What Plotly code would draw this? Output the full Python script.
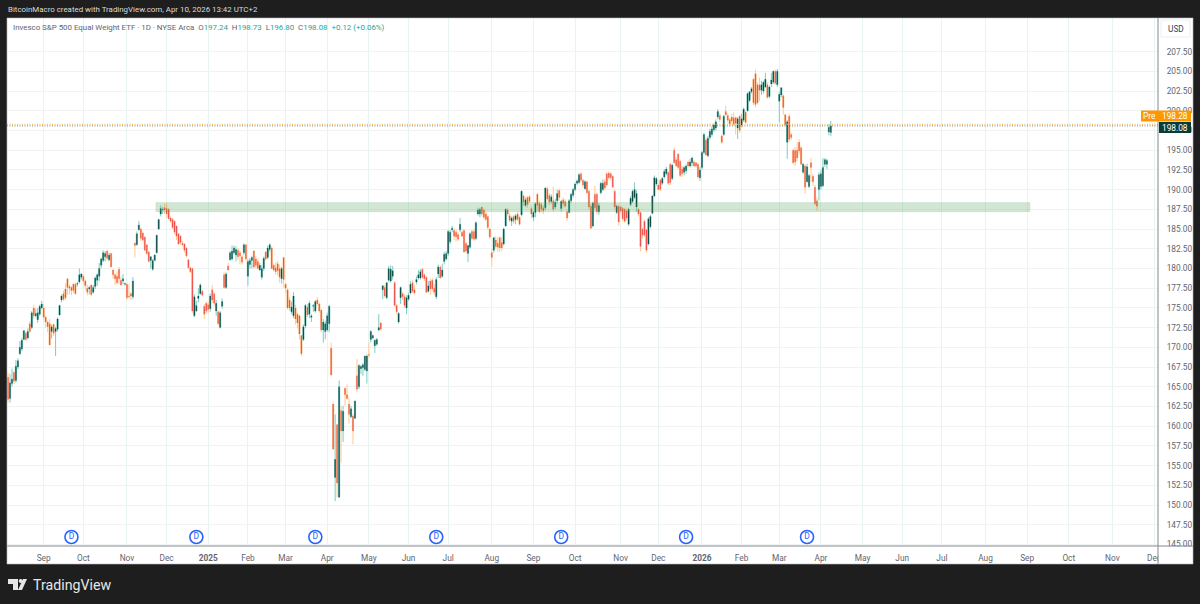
import plotly.graph_objects as go

# daily bars, first bar is roughly late July 2024
open_ = [
    166.2,163.5,165.4,166.8,165.8,167.5,169.2,169.8,171.0,171.8,
    171.2,173.0,172.5,175.0,174.0,173.5,174.2,175.0,175.0,173.8,
    173.2,173.0,172.0,172.9,172.0,172.3,174.1,176.0,176.8,177.4,
    178.7,177.7,177.6,178.0,178.0,178.0,178.3,178.9,179.0,178.4,
    177.5,177.4,177.9,177.0,177.7,178.5,179.0,180.4,181.0,181.5,
    182.2,181.1,181.9,179.8,179.2,179.0,179.9,178.5,178.4,178.0,
    178.0,176.5,176.8,176.4,183.2,183.0,184.9,185.0,184.5,184.0,
    183.0,182.1,181.0,179.9,181.0,182.0,185.0,186.9,187.4,187.7,
    187.6,187.5,186.4,186.2,186.0,185.4,184.4,184.1,183.2,183.1,
    182.6,181.1,180.1,180.0,174.0,174.6,176.2,176.8,177.1,175.2,
    175.6,175.4,174.9,177.3,176.8,174.6,174.5,172.5,175.2,179.2,
    177.6,180.3,181.1,181.2,182.0,181.7,182.3,182.0,181.5,182.0,
    183.0,179.0,180.5,181.0,182.2,181.2,180.9,179.8,178.9,180.0,
    182.1,181.4,182.4,182.6,180.4,180.1,180.6,180.0,178.7,181.4,
    178.0,177.3,176.0,174.5,174.0,175.0,174.2,174.0,171.5,171.0,
    172.7,175.1,174.2,173.8,175.2,174.6,176.0,175.5,174.7,172.2,
    172.0,172.2,173.0,169.9,162.8,153.5,160.2,151.0,162.0,159.4,
    164.8,164.0,162.8,161.2,161.3,161.0,166.4,165.0,167.3,167.4,
    167.2,167.0,169.1,171.0,171.2,170.2,170.4,172.2,173.1,177.3,
    177.6,176.3,178.5,178.4,179.0,178.2,175.3,173.2,176.3,176.8,
    176.4,175.0,176.1,176.9,178.2,177.3,178.3,178.8,178.8,179.9,
    179.2,178.9,177.1,178.4,178.5,177.5,176.4,179.3,180.2,179.0,
    180.9,181.2,181.9,183.4,184.9,184.8,184.6,184.3,184.9,184.6,
    184.8,183.2,181.9,182.7,184.7,184.7,183.8,186.9,186.9,187.8,
    187.4,186.9,186.6,185.0,182.0,182.3,183.6,183.2,183.9,183.3,
    183.1,185.4,187.4,186.7,186.0,186.6,186.2,186.9,186.5,186.8,
    189.2,188.0,189.0,189.1,187.6,186.5,187.1,189.4,188.3,188.1,
    187.7,187.7,190.1,189.3,188.5,188.6,187.8,188.6,189.9,187.6,
    188.7,188.5,187.2,187.1,188.6,189.3,190.0,190.8,190.9,192.0,
    191.2,190.1,191.0,189.8,187.9,185.4,189.4,189.4,187.2,189.6,
    190.0,191.0,192.0,192.1,192.0,191.7,189.8,187.1,187.9,187.8,
    187.6,187.5,187.3,185.6,188.1,188.5,189.0,187.8,187.5,187.1,
    185.0,186.0,184.9,183.1,185.3,187.0,189.2,190.7,190.6,191.2,
    190.8,191.6,192.0,192.2,193.2,191.4,195.0,193.8,194.5,193.6,
    192.6,192.2,192.4,193.5,193.0,193.4,193.5,193.4,193.2,191.5,
    192.8,194.7,196.3,194.3,196.6,197.0,197.6,197.8,199.2,199.4,
    196.8,197.0,199.9,199.4,198.9,199.2,199.1,199.1,197.8,199.3,
    198.2,198.8,199.8,200.0,201.3,202.4,204.0,204.7,203.3,203.3,
    202.6,202.5,203.0,203.3,201.8,203.4,203.6,205.0,203.3,201.2,
    202.0,201.9,199.5,196.0,199.3,197.0,195.0,195.0,195.0,196.0,
    195.3,192.2,193.0,191.0,190.4,193.4,191.7,190.3,188.6,190.0,
    190.4,190.5,193.2,193.2,197.3,197.24,
]
high = [
    166.8,166.6,167.3,167.0,168.4,168.6,170.8,171.2,172.2,172.0,
    172.4,173.3,174.6,175.4,174.9,175.0,175.4,175.9,175.5,174.0,
    173.4,173.6,172.9,173.0,172.6,173.8,175.4,176.7,177.2,178.1,
    178.7,178.0,177.8,178.1,178.2,178.3,180.0,179.4,179.2,178.6,
    177.9,177.8,178.0,177.9,179.0,179.4,180.7,181.4,182.3,182.2,
    182.4,182.0,182.0,179.9,179.4,179.6,180.2,179.0,179.3,178.2,
    178.1,178.0,177.0,178.9,183.3,184.7,186.0,185.2,184.7,184.0,
    183.0,182.2,181.5,181.2,181.8,184.3,186.3,188.0,187.8,188.2,
    188.2,187.7,186.6,186.4,186.1,185.4,184.5,184.2,183.5,183.2,
    182.7,181.2,180.2,180.1,176.7,175.9,177.5,178.1,177.3,175.5,
    175.8,175.8,176.8,177.9,177.0,176.0,174.7,174.6,176.2,179.5,
    179.5,180.7,182.2,182.9,182.9,182.8,182.6,182.3,181.7,183.2,
    183.1,181.2,181.3,181.6,182.3,181.6,181.3,180.7,180.4,181.5,
    182.2,182.9,183.2,182.8,180.6,180.8,181.0,180.5,180.2,181.4,
    178.2,177.5,176.4,175.8,177.0,175.4,174.4,174.1,171.6,172.9,
    175.5,175.5,175.9,174.2,175.5,176.0,176.4,175.7,174.9,173.6,
    173.4,174.4,175.4,170.6,163.0,161.5,160.3,165.8,162.6,162.6,
    164.9,165.3,163.6,162.6,161.5,163.2,168.5,167.9,167.7,168.0,
    168.9,169.1,170.6,172.2,171.6,171.0,171.2,174.2,173.2,177.8,
    177.9,178.3,180.3,180.4,180.3,178.4,175.5,174.5,177.7,177.0,
    176.7,176.6,176.9,178.4,178.5,177.9,179.0,179.8,179.9,180.1,
    179.4,179.0,178.4,178.7,178.8,178.0,178.9,180.5,180.4,180.6,
    182.1,182.2,184.9,184.9,185.4,185.1,184.9,184.6,186.4,184.9,
    185.0,183.4,183.0,184.6,184.9,185.0,186.0,187.7,187.7,187.8,
    187.6,187.2,186.7,185.1,182.5,184.0,184.1,184.0,184.1,184.0,
    185.2,187.6,187.7,187.0,186.6,186.8,186.9,187.2,186.7,189.9,
    189.4,189.0,189.2,189.3,187.9,187.3,188.4,189.6,188.6,188.4,
    188.0,190.3,190.4,189.6,189.4,190.4,188.8,190.0,190.1,188.7,
    189.0,188.8,187.5,188.8,189.6,190.2,190.9,191.3,192.1,192.2,
    191.3,191.2,191.1,190.0,188.2,188.5,190.5,189.6,188.3,191.0,
    191.3,191.4,192.2,192.3,192.2,191.8,190.0,188.1,188.1,188.0,
    187.8,187.7,187.6,187.7,189.2,190.0,190.9,189.9,187.7,187.2,
    185.2,186.2,185.0,186.5,186.8,189.3,191.8,191.6,190.8,191.4,
    191.6,192.6,192.9,192.3,193.4,193.3,195.3,194.1,194.6,193.8,
    193.0,193.0,193.2,193.7,193.9,194.2,193.7,193.5,193.4,192.9,
    194.9,197.2,196.6,196.8,197.7,198.0,198.4,198.9,200.2,199.7,
    197.0,199.5,200.6,199.7,199.0,199.6,199.8,199.3,199.2,199.5,
    199.6,200.4,200.0,202.3,202.5,203.0,204.1,205.2,203.6,204.2,
    203.8,203.8,204.8,203.6,203.2,204.8,205.1,205.2,205.3,202.4,
    203.0,202.1,199.6,198.8,199.6,197.2,195.2,195.4,196.0,196.4,
    195.5,193.4,193.2,193.3,192.0,194.0,192.0,190.6,189.0,192.2,
    192.5,194.0,194.0,193.9,198.3,198.73,
]
low = [
    163.0,163.0,165.0,165.3,165.5,167.2,169.0,169.5,170.9,170.8,
    171.0,171.8,172.3,173.6,173.8,173.1,174.0,174.8,173.5,172.5,
    171.9,170.3,171.1,171.4,168.9,172.0,174.0,175.7,175.9,176.0,
    176.7,176.7,176.6,176.9,176.7,177.7,178.1,178.6,178.0,177.3,
    176.6,176.7,176.5,176.8,177.4,177.8,178.4,180.0,180.8,180.9,
    181.0,180.9,180.2,178.7,177.9,178.0,178.0,177.8,178.0,177.8,
    176.0,176.2,176.0,176.1,181.4,182.9,184.8,183.5,183.4,182.2,
    181.7,180.8,180.0,179.7,181.0,181.9,184.9,186.6,186.9,186.9,
    186.4,186.2,185.8,185.0,184.3,183.6,183.0,183.0,182.8,182.0,
    181.4,179.9,179.4,174.4,173.8,174.5,175.7,176.7,176.5,173.6,
    174.3,174.4,174.5,175.6,175.2,174.0,172.8,172.4,174.9,177.4,
    177.4,179.7,181.0,181.0,181.8,180.9,181.1,180.5,180.5,181.7,
    181.0,177.8,180.0,180.0,180.0,180.1,179.9,179.7,178.6,179.7,
    181.0,181.2,182.1,179.9,179.6,179.2,179.1,178.2,178.1,177.6,
    176.9,174.8,174.6,174.2,173.7,172.9,172.4,171.0,168.9,170.8,
    172.4,173.8,173.7,173.2,174.5,174.4,175.3,174.4,171.9,170.6,
    171.0,172.0,171.9,166.4,157.0,150.5,151.0,150.9,155.4,158.0,
    162.6,163.4,160.3,161.0,157.7,160.9,164.3,164.7,166.6,166.4,
    167.0,165.4,168.7,170.6,171.0,169.3,170.2,172.0,172.1,176.1,
    176.3,176.1,178.3,178.2,178.6,175.2,174.2,173.0,175.5,176.0,
    175.0,174.2,175.9,176.7,176.9,176.7,178.0,178.6,178.6,178.7,
    178.4,176.9,176.9,176.6,177.1,176.6,176.1,178.8,178.7,178.8,
    180.5,181.0,181.6,183.1,184.6,183.6,183.4,183.5,184.6,184.0,
    182.0,182.0,180.8,182.5,183.6,183.5,183.6,186.7,186.5,186.6,
    186.2,186.0,184.9,183.7,180.2,182.0,182.5,182.1,182.1,182.2,
    182.9,185.3,186.6,185.9,185.4,185.7,185.6,186.0,185.4,186.6,
    187.9,187.8,187.7,188.3,186.4,186.0,186.5,187.3,187.0,187.1,
    186.9,187.4,188.6,188.0,188.2,187.2,187.5,188.2,188.6,187.2,
    187.8,187.7,186.0,187.0,188.3,189.0,189.8,190.6,190.7,191.0,
    190.3,190.0,189.4,187.5,185.0,185.2,187.4,186.9,186.8,189.4,
    189.8,189.9,190.4,191.3,191.2,190.2,187.5,186.9,185.4,187.0,
    186.0,185.8,186.1,185.4,187.9,188.3,188.8,187.2,186.6,182.2,
    183.8,184.0,182.0,182.9,185.1,186.9,189.0,190.5,189.9,189.8,
    190.6,191.4,191.8,190.6,190.6,191.2,193.3,192.9,192.6,191.6,
    191.6,191.8,192.0,192.8,192.8,193.0,192.8,192.8,191.4,191.1,
    192.5,194.5,194.3,194.1,196.3,196.7,197.3,197.5,198.9,198.6,
    195.8,196.8,199.3,198.5,198.0,198.4,198.1,197.0,196.4,197.2,
    197.9,198.6,198.4,199.9,201.1,202.2,200.7,200.4,200.8,201.2,
    202.0,202.2,202.9,201.5,201.6,203.0,203.4,203.3,203.0,198.5,
    201.7,199.5,198.0,193.9,196.0,196.3,193.2,193.0,193.6,194.6,
    193.2,192.0,189.5,190.9,190.2,191.0,190.5,188.0,187.3,188.6,
    190.0,190.3,192.9,192.6,196.9,196.80,
]
close = [
    163.4,165.5,166.0,165.7,167.6,168.3,170.0,170.9,172.1,171.0,
    172.0,172.0,174.4,174.0,174.3,174.4,175.2,175.5,173.8,173.2,
    172.6,170.3,172.6,171.8,172.4,173.6,175.3,176.5,176.1,176.3,
    177.6,177.5,177.2,177.2,176.8,178.1,179.2,179.3,178.4,177.8,
    177.0,177.6,176.7,177.6,178.8,179.2,180.0,181.2,182.0,181.9,
    181.3,181.7,180.2,179.2,178.7,178.2,178.7,177.9,178.7,178.1,
    176.3,176.4,176.5,178.4,182.9,184.4,185.5,183.8,183.6,182.3,
    181.9,180.9,181.5,181.0,181.7,184.2,186.2,187.6,187.5,187.4,
    186.9,186.3,186.0,185.2,184.6,184.1,183.1,183.3,183.0,182.3,
    181.6,180.1,179.6,174.6,176.4,175.3,176.5,177.9,176.6,174.2,
    174.6,174.8,176.5,176.0,175.6,175.6,173.0,174.4,175.8,177.6,
    179.3,179.8,182.0,182.2,182.6,182.4,181.5,181.6,180.8,183.0,
    181.2,180.9,181.0,181.4,180.2,180.4,180.0,180.4,180.0,181.3,
    181.2,182.6,183.0,180.0,179.8,179.6,179.7,178.9,180.0,178.6,
    177.5,175.0,175.0,175.1,176.5,173.6,173.1,171.7,169.2,172.6,
    175.3,174.1,175.6,174.0,175.3,175.8,175.5,174.6,172.2,173.2,
    173.0,174.0,175.2,166.5,157.1,155.8,152.8,165.0,159.4,161.9,
    164.0,163.5,161.5,162.2,159.4,163.2,164.7,167.7,167.6,167.8,
    168.9,168.9,169.0,172.0,171.5,170.9,171.0,172.5,172.3,177.8,
    176.5,178.2,180.0,179.9,179.7,175.3,174.5,174.3,177.6,176.4,
    175.3,176.3,176.6,178.0,177.1,176.9,178.6,179.2,179.6,178.9,
    178.7,177.0,177.8,177.4,177.4,177.0,178.6,180.2,178.8,179.8,
    181.8,181.9,184.7,184.6,185.1,184.1,184.0,183.7,185.6,184.1,
    182.1,182.2,182.9,184.4,183.8,183.7,185.8,187.4,187.5,186.9,
    186.5,186.2,185.2,184.0,181.4,183.9,182.8,182.7,182.6,182.6,
    185.0,187.5,186.9,186.1,186.4,186.0,186.7,186.2,185.6,189.8,
    188.4,188.7,188.1,188.5,186.9,187.1,188.2,188.0,187.2,187.5,
    187.3,190.2,188.8,188.4,189.1,187.5,188.4,189.5,189.0,188.5,
    188.2,187.9,186.4,188.6,189.4,190.0,190.7,191.1,191.9,191.2,
    190.6,191.0,189.6,187.8,185.1,188.3,187.7,187.2,188.0,190.8,
    190.8,190.2,190.6,191.5,191.5,190.3,187.8,187.9,185.9,187.3,
    186.3,186.0,186.4,187.5,188.9,189.8,190.0,189.5,186.9,182.8,
    184.2,184.2,182.3,186.3,186.6,189.2,191.5,191.4,190.0,190.0,
    191.4,192.3,192.6,190.8,190.9,193.1,193.4,193.0,192.8,191.8,
    192.0,192.8,193.0,193.0,193.5,194.0,193.0,193.0,191.6,192.5,
    194.7,197.0,194.4,196.5,197.4,197.7,198.2,198.6,199.9,198.9,
    196.0,199.3,199.5,198.8,198.3,198.7,198.3,198.4,199.0,197.5,
    199.0,200.2,198.5,202.2,202.4,202.8,201.0,200.8,201.0,202.6,
    203.3,203.6,204.0,201.7,203.0,203.9,205.0,203.5,205.0,202.1,
    202.9,200.4,198.2,198.6,196.4,196.6,193.4,193.5,194.0,194.9,
    193.2,193.2,190.3,192.9,191.8,192.8,191.0,188.2,187.9,191.9,
    192.0,192.8,193.8,193.7,197.9,198.08,
]

# month ticks, as bar numbers (the future months keep counting trading days)
month_bars = [18, 38, 60, 80, 101, 121, 140, 161, 182, 202, 222, 244, 265, 286,
              309, 328, 350, 370, 389, 410, 431, 451, 471, 493, 514, 535, 557, 578]
month_labels = ["Sep", "Oct", "Nov", "Dec", "<b>2025</b>", "Feb", "Mar", "Apr", "May", "Jun",
                "Jul", "Aug", "Sep", "Oct", "Nov", "Dec", "<b>2026</b>", "Feb", "Mar", "Apr",
                "May", "Jun", "Jul", "Aug", "Sep", "Oct", "Nov", "Dec"]
price_ticks = [145.0 + 2.5 * n for n in range(26)]

# dividend flags along the bottom of the pane
dividend_bars = [32, 95, 155, 216, 279, 342, 403]
dividend_level = [145.95] * 7

zone_bars = [74.6, 515.4]
zone_prices = [187.2, 188.35]
last_close = 198.08
pre_price = 198.28

FONT = "Roboto"
GREY = "#62656e"
TEAL = "#26a69a"

L, R, T, B = 7, 1158, 18, 546  # plot area in page pixels


def px(x):
    return (x - L) / (R - L)


def py(y):
    return (B - y) / (B - T)


def page_rect(x0, y0, x1, y1, **kw):
    return dict(type="rect", xref="paper", yref="paper", x0=px(x0), x1=px(x1), y0=py(y0), y1=py(y1), **kw)


def page_text(x, y, text, anchor="left", size=7.9, color=GREY, **kw):
    fig.add_annotation(xref="paper", yref="paper", x=px(x), y=py(y), text=text, showarrow=False,
                       xanchor=anchor, yanchor="middle", borderpad=0,
                       font=dict(family=FONT, size=size, color=color), **kw)


def poly(points):
    return "M " + " L ".join(f"{px(x):.5f} {py(y):.5f}" for x, y in points) + " Z"


fig = go.Figure()
bars = list(range(len(close)))

# pale wicks and outlines
fig.add_trace(go.Candlestick(
    x=bars, open=open_, high=high, low=low, close=close,
    increasing=dict(line=dict(color="#7fcbc3", width=1), fillcolor="#7fcbc3"),
    decreasing=dict(line=dict(color="#ffc98f", width=1), fillcolor="#ffc98f"),
    whiskerwidth=0, showlegend=False, hoverinfo="skip",
))

# solid bodies on top: same bars cut down to open/close, since the outline would hide any fill
fig.add_trace(go.Candlestick(
    x=bars, open=open_, close=close,
    high=[max(o, c) for o, c in zip(open_, close)],
    low=[min(o, c) for o, c in zip(open_, close)],
    increasing=dict(line=dict(color="#0f4a44", width=0), fillcolor="#0f4a44"),
    decreasing=dict(line=dict(color="#ef5350", width=0), fillcolor="#ef5350"),
    whiskerwidth=0, showlegend=False, hoverinfo="skip",
))

fig.add_trace(go.Scatter(
    x=dividend_bars, y=dividend_level, mode="markers+text", text=["D"] * len(dividend_bars),
    textposition="middle center", textfont=dict(family=FONT, size=8.5, color="#2962ff"),
    marker=dict(size=13, color="white", line=dict(color="#2962ff", width=1.6)),
    showlegend=False, hoverinfo="skip",
))

# support zone
fig.add_shape(type="rect", x0=zone_bars[0], x1=zone_bars[1], y0=zone_prices[0], y1=zone_prices[1],
              fillcolor="rgba(76,160,80,0.25)", line=dict(color="rgba(76,160,80,0.12)", width=1), layer="above")

# price lines
fig.add_hline(y=pre_price, line=dict(color="#ffb04d", width=1, dash="1px,1.5px"))
fig.add_hline(y=last_close, line=dict(color="rgba(11,59,54,0.6)", width=1, dash="1px,1.5px"))

# white strips behind the axes, then the frame lines
fig.add_shape(page_rect(R, T, 1193, 564, fillcolor="white", line_width=0, layer="below"))
fig.add_shape(page_rect(L, B, R, 564, fillcolor="white", line_width=0, layer="below"))
fig.add_shape(page_rect(R + 0.5, B + 0.5, 1192, 563, fillcolor="white", line_width=0, layer="above"))
fig.add_shape(type="line", xref="paper", yref="paper", x0=px(L), x1=px(1193), y0=py(B), y1=py(B),
              line=dict(color="#84878f", width=1), layer="above")
fig.add_shape(type="line", xref="paper", yref="paper", x0=px(R), x1=px(R), y0=py(T), y1=py(564),
              line=dict(color="#84878f", width=1), layer="above")
fig.add_shape(page_rect(L, T, 1193, 564, fillcolor="rgba(0,0,0,0)", line=dict(color="#b9bbc1", width=0.6), layer="above"))

# price boxes on the axis
fig.add_shape(page_rect(1141, 110.5, 1191, 121.5, fillcolor="#ff9800", line_width=0, layer="above"))
fig.add_shape(page_rect(R + 1, 122, 1191, 133, fillcolor="#0b3b36", line_width=0, layer="above"))
fig.add_shape(page_rect(1161, 20, 1190, 37, fillcolor="white", line=dict(color="#eceef0", width=1), layer="above"))

# TradingView mark
fig.add_shape(type="path", xref="paper", yref="paper", fillcolor="#e6e6e6", line_width=0,
              path=poly([(8, 579), (18, 579), (18, 590), (13, 590), (13, 584), (8, 584)]))
fig.add_shape(type="circle", xref="paper", yref="paper", fillcolor="#e6e6e6", line_width=0,
              x0=px(18.7), x1=px(22.7), y0=py(583), y1=py(579))
fig.add_shape(type="path", xref="paper", yref="paper", fillcolor="#e6e6e6", line_width=0,
              path=poly([(23, 579), (27, 579), (22, 590), (18, 590)]))

fig.update_layout(
    width=1200, height=604,
    margin=dict(l=L, r=1200 - R, t=T, b=604 - B),
    paper_bgcolor="#1e1e1e", plot_bgcolor="white", boxgap=0.15,
    font=dict(family=FONT, size=8.3, color=GREY),
    xaxis=dict(range=[-0.5, 580], tickmode="array", tickvals=month_bars, ticktext=month_labels,
               showgrid=True, gridcolor="#e8f3f2", gridwidth=1, zeroline=False, showline=False,
               ticks="outside", ticklen=4, tickcolor="white", rangeslider=dict(visible=False),
               tickfont=dict(family=FONT, size=8.3, color=GREY), tickangle=0),
    yaxis=dict(range=[144.81, 211.76], side="right", tickmode="array", tickvals=price_ticks,
               ticktext=[f"{p:.2f}" for p in price_ticks],
               showgrid=True, gridcolor="#eff3f4", gridwidth=1, zeroline=False, showline=False,
               ticks="outside", ticklen=6, tickcolor="white",
               tickfont=dict(family=FONT, size=8.3, color=GREY)),
)

page_text(7, 9.5, "BitcoinMacro created with TradingView.com, Apr 10, 2026 13:42 UTC+2", color="#dcdcdc")
page_text(12, 27.5, "Invesco S&amp;P 500 Equal Weight ETF · 1D · NYSE Arca  "
          f"O<span style='color:{TEAL}'>197.24</span>  H<span style='color:{TEAL}'>198.73</span>  "
          f"L<span style='color:{TEAL}'>196.80</span>  C<span style='color:{TEAL}'>198.08</span>  "
          f"<span style='color:{TEAL}'>+0.12 (+0.06%)</span>")
page_text(1175.5, 29, "USD", anchor="center", size=8.3, color="#3c3f47")
page_text(1149.5, 116, "Pre", anchor="center", size=8.3, color="white")
page_text(1175, 116, "198.28", anchor="center", size=8.3, color="white")
page_text(1175, 127.5, "198.08", anchor="center", size=8.3, color="white")
page_text(32, 584.5, "TradingView", size=14.2, color="#e6e6e6")

fig.write_html("out.html", config=dict(staticPlot=True), post_script="document.body.style.margin='0';")
